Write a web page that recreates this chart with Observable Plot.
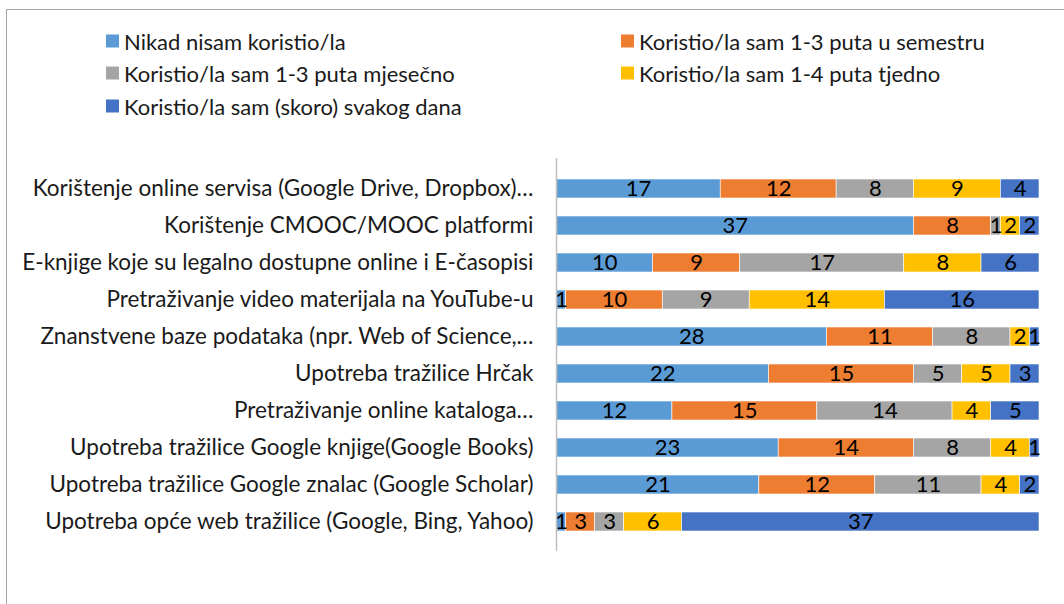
<!DOCTYPE html>
<html><head><meta charset="utf-8">
<script src="https://cdn.jsdelivr.net/npm/d3@7"></script>
<script src="https://cdn.jsdelivr.net/npm/@observablehq/plot@0.6"></script>
<style>
body{margin:0;background:#fff;}
#wrap{position:relative;width:1064px;height:604px;overflow:hidden;font-family:Lato,"Open Sans",sans-serif;}
#frame{position:absolute;left:6px;top:9px;width:1100px;height:700px;border-left:1px solid #a6a6a6;border-top:1px solid #a6a6a6;}
.leg{position:absolute;display:flex;align-items:center;font-size:22px;color:#1a1a1a;white-space:nowrap;transform:translateY(-50%);}
.sw{width:13px;height:13px;margin-right:5px;flex:none}
#chart{position:absolute;left:0;top:0}
</style></head>
<body>
<div id="wrap"><div id="frame"></div><div id="chart"></div></div>
<script>
const categories = [
  "Korištenje online servisa (Google Drive, Dropbox)…",
  "Korištenje CMOOC/MOOC platformi",
  "E-knjige koje su legalno dostupne online i E-časopisi",
  "Pretraživanje video materijala na YouTube-u",
  "Znanstvene baze podataka (npr. Web of Science,…",
  "Upotreba tražilice Hrčak",
  "Pretraživanje online kataloga…",
  "Upotreba tražilice Google knjige(Google Books)",
  "Upotreba tražilice Google znalac (Google Scholar)",
  "Upotreba opće web tražilice (Google, Bing, Yahoo)"
];
const series = [
  "Nikad nisam koristio/la",
  "Koristio/la sam 1-3 puta u semestru",
  "Koristio/la sam 1-3 puta mjesečno",
  "Koristio/la sam 1-4 puta tjedno",
  "Koristio/la sam (skoro) svakog dana"
];
const colors = ["#5B9BD5", "#ED7D31", "#A5A5A5", "#FFC000", "#4472C4"];
const nikad    = [17, 37, 10, 1, 28, 22, 12, 23, 21, 1];
const semestar = [12, 8, 9, 10, 11, 15, 15, 14, 12, 3];
const mjesecno = [8, 1, 17, 9, 8, 5, 14, 8, 11, 3];
const tjedno   = [9, 2, 8, 14, 2, 5, 4, 4, 4, 6];
const dnevno   = [4, 2, 6, 16, 1, 3, 5, 1, 2, 37];
const seriesValues = [nikad, semestar, mjesecno, tjedno, dnevno];

const data = [];
series.forEach((s, si) => categories.forEach((c, ci) => data.push({cat: c, series: s, value: seriesValues[si][ci]})));

// legend
const legendPos = [
  {left: 106, top: 41}, {left: 621, top: 41},
  {left: 106, top: 73}, {left: 621, top: 73},
  {left: 106, top: 106}
];
const wrap = document.getElementById("wrap");
series.forEach((s, i) => {
  const d = document.createElement("div");
  d.className = "leg";
  d.style.left = legendPos[i].left + "px";
  d.style.top = legendPos[i].top + "px";
  const sw = document.createElement("span");
  sw.className = "sw"; sw.style.background = colors[i];
  const t = document.createElement("span");
  t.textContent = s;
  d.appendChild(sw); d.appendChild(t);
  wrap.appendChild(d);
});

const chart = Plot.plot({
  width: 1064, height: 604,
  marginLeft: 556, marginRight: 25, marginTop: 158, marginBottom: 53,
  style: {fontFamily: "Lato, 'Open Sans', sans-serif", fontSize: "23px", color: "#1a1a1a", background: "transparent"},
  x: {domain: [0, 50], axis: null},
  y: {domain: categories, padding: 0.49, label: null, axis: null},
  color: {domain: series, range: colors},
  marks: [
    Plot.barX(data, Plot.stackX({x: "value", y: "cat", fill: "series", order: series, stroke: "#fff", strokeWidth: 0.6})),
    Plot.text(data, Plot.stackX({x: "value", y: "cat", z: "series", order: series, text: d => String(d.value), fontSize: 22, fill: "#000"})),
    Plot.axisY({tickSize: 0, tickPadding: 23, fontSize: 22.5, label: null}),
    Plot.ruleX([0], {stroke: "#bfbfbf", strokeWidth: 1.5})
  ]
});
document.getElementById("chart").appendChild(chart);
</script>
</body></html>
